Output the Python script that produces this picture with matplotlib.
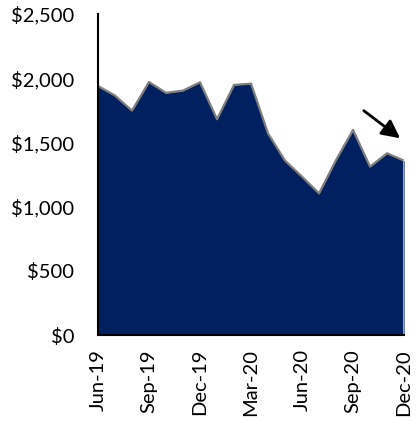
import matplotlib
matplotlib.use("Agg")
import matplotlib.pyplot as plt
from matplotlib.ticker import FuncFormatter

plt.rcParams['font.family'] = ['Lato', 'DejaVu Sans']

# monthly values, Jun-19 .. Dec-20
months = ["Jun-19", "Jul-19", "Aug-19", "Sep-19", "Oct-19", "Nov-19", "Dec-19",
          "Jan-20", "Feb-20", "Mar-20", "Apr-20", "May-20", "Jun-20", "Jul-20",
          "Aug-20", "Sep-20", "Oct-20", "Nov-20", "Dec-20"]
values = [1939, 1864, 1747, 1970, 1885, 1903, 1968,
          1680, 1947, 1957, 1570, 1358, 1233, 1103,
          1363, 1597, 1311, 1415, 1358]
tick_months = ["Jun-19", "Sep-19", "Dec-19", "Mar-20", "Jun-20", "Sep-20", "Dec-20"]
y_ticks = [0, 500, 1000, 1500, 2000, 2500]

fig = plt.figure(figsize=(4.17, 4.21), dpi=100)
ax = fig.add_axes([0.235, 0.204, 0.734, 0.763])

x = list(range(len(months)))
ax.fill_between(x, values, 0, color="#002060", linewidth=0, zorder=2)
ax.plot(x, values, color="#7f7f7f", linewidth=1.6, zorder=3)
ax.plot([x[-1], x[-1]], [0, values[-1]], color="#bfbfbf", linewidth=1.2, zorder=3)

ax.set_xlim(0, len(months) - 1)
ax.set_ylim(0, 2500)
ax.set_yticks(y_ticks)
ax.yaxis.set_major_formatter(FuncFormatter(lambda v, p: f"${v:,.0f}"))
ax.set_xticks([months.index(m) for m in tick_months])
ax.set_xticklabels(tick_months, rotation=90)
ax.tick_params(axis="both", length=0, labelsize=14.5, colors="black")
ax.tick_params(axis="y", pad=17)
ax.tick_params(axis="x", pad=10)

for side in ("top", "right"):
    ax.spines[side].set_visible(False)
for side in ("left", "bottom"):
    ax.spines[side].set_linewidth(1.5)
    ax.spines[side].set_color("black")
    ax.spines[side].set_zorder(4)

# downward trend arrow
ax.annotate("", xy=(17.9, 1519), xytext=(15.5, 1760),
            arrowprops=dict(arrowstyle="-|>,head_length=1.1,head_width=0.55",
                            color="black", lw=2), annotation_clip=False)

fig.savefig("out.png", dpi=100)
